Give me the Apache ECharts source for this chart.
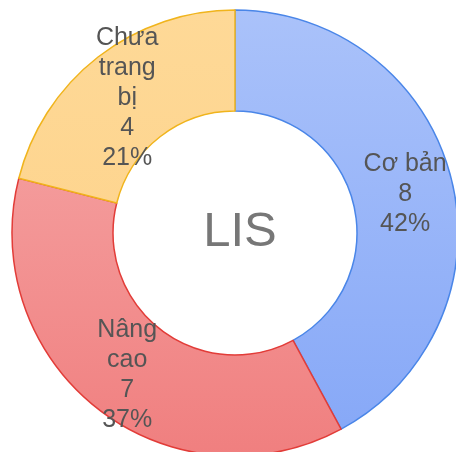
<!DOCTYPE html>
<html lang="en">
<head>
    <meta charset="UTF-8">
    <title>LIS</title>
    <style>
        html, body { margin: 0; padding: 0; background: #fff; }
        #chart { width: 456px; height: 452px; }
    </style>
</head>
<body>
    <div id="chart"></div>
    <script src="https://cdn.jsdelivr.net/npm/echarts@6/dist/echarts.min.js"></script>
    <script>
        var categories = ['Cơ bản', 'Nâng cao', 'Chưa trang bị'];
        var wrapped = ['Cơ bản', 'Nâng\ncao', 'Chưa\ntrang\nbị'];
        var values = [8, 7, 4];
        var topColors = ['#aac2fa', '#f6abab', '#fed997'];
        var bottomColors = ['#85a7f7', '#f07f7f', '#fdd086'];
        var borderColors = ['#4a86e8', '#e23c38', '#f0b41c'];

        function grad(i) {
            return new echarts.graphic.LinearGradient(0, 10, 0, 456, [
                { offset: 0, color: topColors[i] },
                { offset: 1, color: bottomColors[i] }
            ], true);
        }

        var data = categories.map(function (name, i) {
            return {
                name: name,
                value: values[i],
                itemStyle: { color: grad(i), borderColor: borderColors[i], borderWidth: 1.5 }
            };
        });

        var chart = echarts.init(document.getElementById('chart'));
        chart.setOption({
            animation: false,
            title: {
                text: 'LIS',
                left: 235,
                top: 227,
                textAlign: 'center',
                textVerticalAlign: 'middle',
                textStyle: { fontFamily: 'Liberation Sans', fontSize: 49, fontWeight: 'normal', color: '#777' }
            },
            series: [{
                type: 'pie',
                center: [235, 233],
                radius: [122, 223],
                startAngle: 90,
                clockwise: true,
                percentPrecision: 0,
                label: {
                    position: 'inside',
                    fontFamily: 'Liberation Sans',
                    fontSize: 25,
                    lineHeight: 30,
                    color: '#555',
                    align: 'center',
                    offset: [0, 4],
                    formatter: function (p) {
                        return wrapped[p.dataIndex] + '\n' + p.value + '\n' + p.percent + '%';
                    }
                },
                labelLine: { show: false },
                emphasis: { disabled: true },
                data: data
            }]
        });
    </script>
</body>
</html>
